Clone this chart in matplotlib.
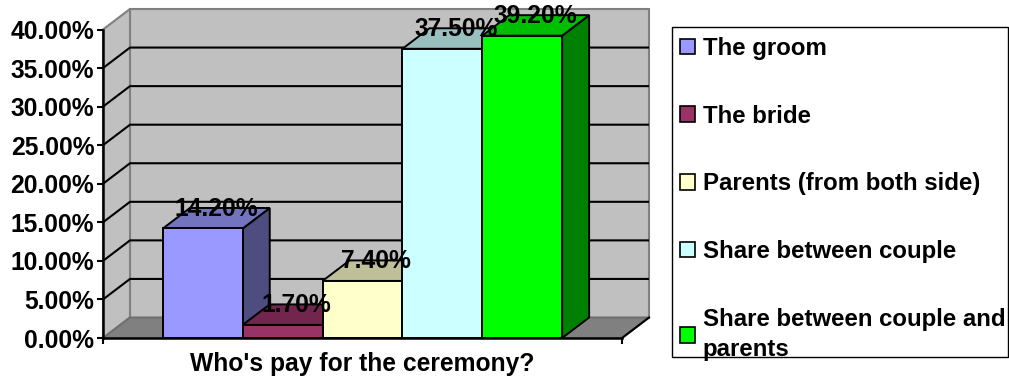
import matplotlib
matplotlib.use("Agg")
import matplotlib.pyplot as plt
from matplotlib.patches import Polygon, Patch, Rectangle
from matplotlib.colors import to_rgb

# ---- data -------------------------------------------------------------
categories = ["The groom", "The bride", "Parents (from both side)",
              "Share between couple", "Share between couple and\nparents"]
values = [14.2, 1.7, 7.4, 37.5, 39.2]
value_labels = ["14.20%", "1.70%", "7.40%", "37.50%", "39.20%"]
colors = ["#9999FF", "#993366", "#FFFFCC", "#CCFFFF", "#00FF00"]
y_ticks = [0, 5, 10, 15, 20, 25, 30, 35, 40]
y_tick_labels = ["0.00%", "5.00%", "10.00%", "15.00%", "20.00%",
                 "25.00%", "30.00%", "35.00%", "40.00%"]
axis_title = "Who's pay for the ceremony?"

# ---- style ------------------------------------------------------------
FONT = "Liberation Sans"
FS = 17.7
FS_LEG = 17.3
plt.rcParams["font.family"] = FONT
plt.rcParams["font.weight"] = "bold"

W, H = 1009, 376
fig = plt.figure(figsize=(W / 100, H / 100), dpi=100)
fig.patch.set_facecolor("white")

# front plane of the plot area, in pixels
left_px, right_px, bottom_px, top_px = 103, 622, 338, 29.5
ax = fig.add_axes([left_px / W, (H - bottom_px) / H,
                   (right_px - left_px) / W, (bottom_px - top_px) / H])
ax.set_xlim(0, 1)
ax.set_ylim(0, 40)
ax.set_facecolor("none")

# 3-D depth offset (pixels -> data units)
depth_px = (27.0, 20.5)
DX = depth_px[0] / (right_px - left_px)
DY = depth_px[1] / (bottom_px - top_px) * 40

ymax = 40
wall_col = "#C0C0C0"
floor_col = "#808080"
edge_col = "#808080"


def poly(pts, fc, ec, lw=1.2, z=1):
    p = Polygon(pts, closed=True, facecolor=fc, edgecolor=ec, linewidth=lw,
                zorder=z, clip_on=False, joinstyle="miter")
    ax.add_patch(p)


# walls and floor
poly([(DX, DY), (1 + DX, DY), (1 + DX, ymax + DY), (DX, ymax + DY)],
     wall_col, edge_col, lw=1.5, z=0.5)
poly([(0, 0), (0, ymax), (DX, ymax + DY), (DX, DY)],
     wall_col, edge_col, lw=1.5, z=0.5)
poly([(0, 0), (1, 0), (1 + DX, DY), (DX, DY)],
     floor_col, "#707070", lw=1.5, z=0.6)
ax.plot([1, 1 + DX], [0, DY], color="black", lw=1.5, zorder=0.7,
        clip_on=False)

# gridlines on side wall and back wall
for v in y_ticks[1:-1]:
    ax.plot([0, DX, 1 + DX], [v, v + DY, v + DY], color="black", lw=1.5,
            zorder=0.8, clip_on=False, solid_capstyle="butt")


def shade(c, f):
    r, g, b = to_rgb(c)
    return (r * f, g * f, b * f)


# bars (Excel-like gap width 150%)
n = len(values)
bar_w = 1 / (n + 1.5)
start = 0.75 * bar_w
for i, (v, c) in enumerate(zip(values, colors)):
    x0 = start + i * bar_w
    x1 = x0 + bar_w
    z = 2 + i * 0.1
    # side
    poly([(x1, 0), (x1, v), (x1 + DX, v + DY), (x1 + DX, DY)],
         shade(c, 0.5), "black", lw=1.4, z=z)
    # top
    poly([(x0, v), (x1, v), (x1 + DX, v + DY), (x0 + DX, v + DY)],
         shade(c, 0.75), "black", lw=1.4, z=z + 0.01)
    # front
    poly([(x0, 0), (x1, 0), (x1, v), (x0, v)], c, "black", lw=1.4, z=z + 0.02)

# value labels
for i, (v, lab) in enumerate(zip(values, value_labels)):
    xc = start + (i + 0.5) * bar_w + DX / 2
    ax.annotate(lab, xy=(xc, v + DY / 2), xytext=(0, 7),
                textcoords="offset points", ha="center", va="center",
                fontsize=FS, fontweight="bold", color="black", zorder=10,
                annotation_clip=False)

# axes
for s in ("top", "right"):
    ax.spines[s].set_visible(False)
for s in ("left", "bottom"):
    ax.spines[s].set_color("black")
    ax.spines[s].set_linewidth(1.8)
    ax.spines[s].set_zorder(5)
ax.set_yticks(y_ticks)
ax.set_yticklabels(y_tick_labels, fontsize=FS, fontweight="bold")
ax.tick_params(axis="y", direction="out", length=4.3, width=1.5, pad=2.0)
ax.set_xticks([0, 1])
ax.set_xticklabels([])
ax.tick_params(axis="x", direction="out", length=4.3, width=1.5)
ax.set_xlabel(axis_title, fontsize=FS, fontweight="bold", labelpad=2)

# legend box
fig.patches.append(Rectangle((672 / W, 1 - 357 / H), (1008 - 672) / W,
                             (357 - 27) / H, transform=fig.transFigure,
                             facecolor="white", edgecolor="black",
                             linewidth=1.0, zorder=0))

# legend entries
handles = [Patch(facecolor=c, edgecolor="black", linewidth=1.2) for c in colors]
leg = fig.legend(handles, categories, loc="upper left",
                 bbox_to_anchor=(672 / W, 1 - 29 / H), borderaxespad=0,
                 frameon=False, borderpad=0.33, labelspacing=1.86,
                 handlelength=0.62, handleheight=0.62, handletextpad=0.33,
                 prop={"family": FONT, "weight": "bold", "size": FS_LEG})
leg.get_texts()[-1].set_linespacing(1.41)

fig.savefig("out.png", dpi=100, facecolor="white")
